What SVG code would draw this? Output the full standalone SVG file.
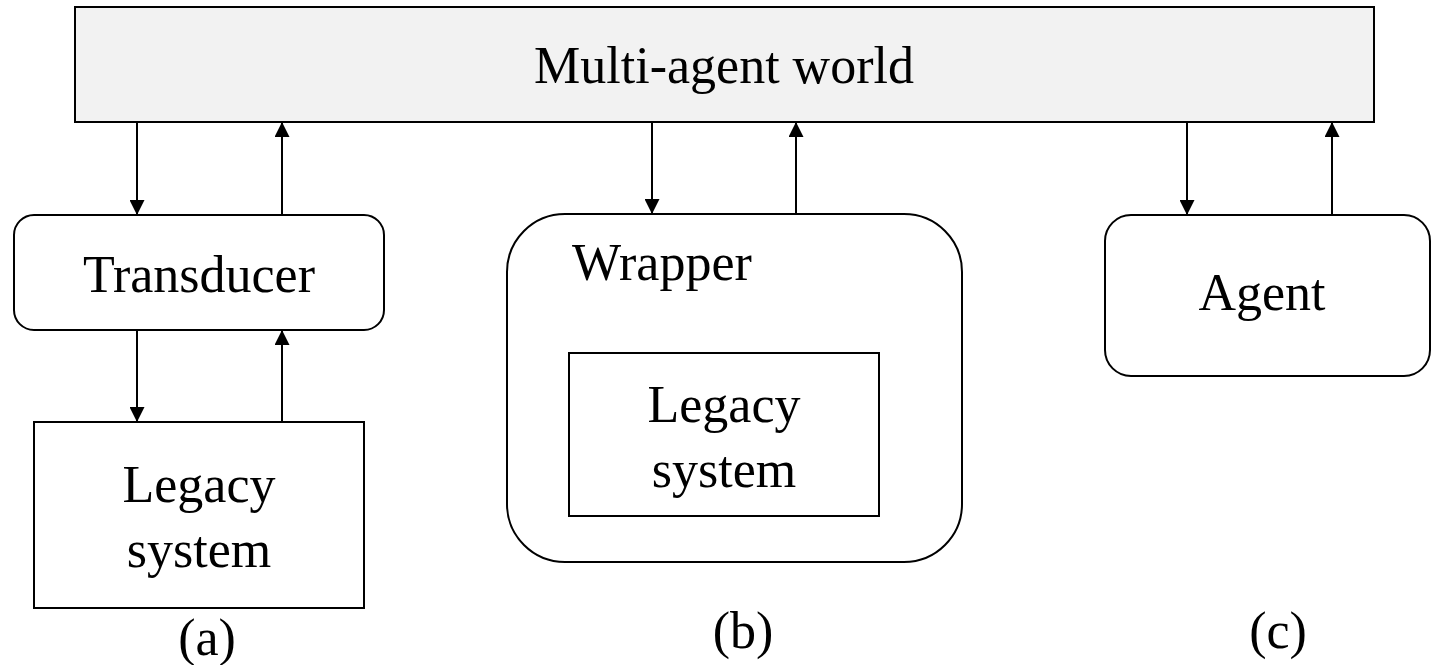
<svg xmlns="http://www.w3.org/2000/svg" width="1431" height="665" viewBox="0 0 1431 665">
<style>
.box{fill:#fff;stroke:#000;stroke-width:2}
.world{fill:#f2f2f2;stroke:#000;stroke-width:2}
.lbl{font-family:"Liberation Serif","Times New Roman",serif;font-size:52px;fill:#000}
.c{text-anchor:middle}
.conn{stroke:#000;stroke-width:2;fill:none;marker-end:url(#ah)}
</style>
<defs>
<marker id="ah" markerUnits="userSpaceOnUse" markerWidth="15" markerHeight="15" viewBox="0 0 10 10" refX="10" refY="5" orient="auto">
<path d="M0,0 L10,5 L0,10 z" fill="#000"/>
</marker>
</defs>
<rect width="1431" height="665" fill="#fff"/>
<g id="world">
<rect class="world" x="75" y="7" width="1299" height="115"/>
<text class="lbl c" x="724" y="83">Multi-agent world</text>
</g>
<g id="transducer">
<rect class="box" x="14" y="215" width="370" height="115" rx="20" ry="20"/>
<text class="lbl c" x="199" y="292">Transducer</text>
</g>
<g id="legacy-a">
<rect class="box" x="34" y="422" width="330" height="186"/>
<text class="lbl c" x="199" y="502">Legacy</text>
<text class="lbl c" x="199" y="567">system</text>
</g>
<g id="wrapper">
<rect class="box" x="507" y="214" width="455" height="348" rx="58" ry="58"/>
<text class="lbl" x="572" y="280">Wrapper</text>
</g>
<g id="legacy-b">
<rect class="box" x="569" y="353" width="310" height="163"/>
<text class="lbl c" x="724" y="422">Legacy</text>
<text class="lbl c" x="724" y="487">system</text>
</g>
<g id="agent">
<rect class="box" x="1105" y="215" width="325" height="161" rx="26" ry="26"/>
<text class="lbl c" x="1262" y="310">Agent</text>
</g>
<g id="label-a"><text class="lbl c" x="207" y="655">(a)</text></g>
<g id="label-b"><text class="lbl c" x="743" y="648">(b)</text></g>
<g id="label-c"><text class="lbl c" x="1278" y="648">(c)</text></g>
<g id="connectors">
<line class="conn" x1="137" y1="122" x2="137" y2="215"/>
<line class="conn" x1="282" y1="215" x2="282" y2="122"/>
<line class="conn" x1="137" y1="330" x2="137" y2="422"/>
<line class="conn" x1="282" y1="422" x2="282" y2="330"/>
<line class="conn" x1="652" y1="122" x2="652" y2="214"/>
<line class="conn" x1="796" y1="214" x2="796" y2="122"/>
<line class="conn" x1="1187" y1="122" x2="1187" y2="215"/>
<line class="conn" x1="1332" y1="215" x2="1332" y2="122"/>
</g>
</svg>
